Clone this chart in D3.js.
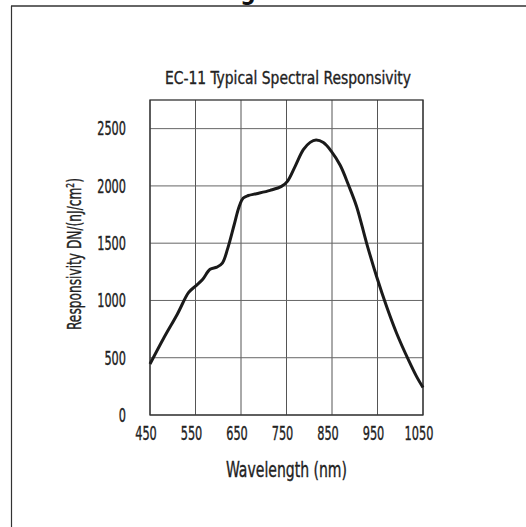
<!DOCTYPE html>
<html>
<head>
<meta charset="utf-8">
<script src="https://cdn.jsdelivr.net/npm/d3@7"></script>
<style>
  html, body { margin: 0; padding: 0; background: #fff; }
  text { font-family: "Liberation Sans Narrow", "DejaVu Sans Condensed", "Roboto Condensed", sans-serif; fill: #222; stroke: #222; stroke-width: 0.35px; }
</style>
</head>
<body>
<svg id="chart" width="526" height="527"></svg>
<script>
// wavelength (nm) and responsivity (DN/(nJ/cm2))
const wavelengths = [450, 480, 510, 535, 550, 565, 582, 597, 609, 621, 635, 646, 655, 666, 684, 714, 739, 752,
    769, 787, 802, 815, 831, 849, 868, 886, 904, 926, 948, 970, 992, 1018, 1036, 1050];
const responsivity = [445, 670, 880, 1070, 1125, 1180, 1272, 1291, 1326, 1457, 1661, 1821, 1894, 1916, 1932, 1961, 1996, 2040,
    2171, 2316, 2380, 2400, 2378, 2300, 2180, 2010, 1821, 1501, 1209, 947, 714, 481, 335, 240];

const xTicks = [450, 550, 650, 750, 850, 950, 1050];
const yTicks = [0, 500, 1000, 1500, 2000, 2500];

const titleText = 'EC-11 Typical Spectral Responsivity';
const xTitle = 'Wavelength (nm)';
const yTitle = 'Responsivity DN/(nJ/cm²)';

const svg = d3.select('#chart');

const plot = { left: 150, right: 423, top: 100, bottom: 415 };

const x = d3.scaleLinear().domain([450, 1050]).range([plot.left, plot.right]);
const y = d3.scaleLinear().domain([0, 2750]).range([plot.bottom, plot.top]);

// outer frame (left and top edges only are visible)
svg.append('line')
    .attr('x1', 11.5).attr('x2', 11.5).attr('y1', 6).attr('y2', 527)
    .style('stroke', '#333').style('stroke-width', '1.2px');
svg.append('line')
    .attr('x1', 11).attr('x2', 526).attr('y1', 6).attr('y2', 6)
    .style('stroke', '#333').style('stroke-width', '1.5px');

// clipped heading from above the frame, only its descenders show
svg.append('text')
    .attr('x', 218).attr('y', -0.5)
    .style('font-weight', 'bold').style('font-size', '24px')
    .style('fill', '#111').style('stroke', 'none')
    .text('Figure 3');

// grid lines
svg.append('g')
    .selectAll('.col')
    .data(xTicks)
    .enter()
    .append('line')
    .attr('x1', d => x(d)).attr('x2', d => x(d))
    .attr('y1', plot.top).attr('y2', plot.bottom)
    .style('stroke', '#555').style('stroke-width', '1px');

svg.append('g')
    .selectAll('.row')
    .data(yTicks)
    .enter()
    .append('line')
    .attr('x1', plot.left).attr('x2', plot.right)
    .attr('y1', d => y(d)).attr('y2', d => y(d))
    .style('stroke', '#666').style('stroke-width', '1px');

svg.append('rect')
    .attr('x', plot.left).attr('y', plot.top)
    .attr('width', plot.right - plot.left).attr('height', plot.bottom - plot.top)
    .style('fill', 'none').style('stroke', '#333').style('stroke-width', '1.3px');

// tick labels
svg.append('g')
    .selectAll('text')
    .data(yTicks)
    .enter()
    .append('text')
    .attr('x', 126)
    .attr('y', d => y(d))
    .attr('dy', '0.36em')
    .attr('text-anchor', 'end')
    .attr('textLength', d => String(d).length * 7.2)
    .attr('lengthAdjust', 'spacingAndGlyphs')
    .style('font-size', '19px')
    .text(d => d);

svg.append('g')
    .selectAll('text')
    .data(xTicks)
    .enter()
    .append('text')
    .attr('x', d => x(d) - 4)
    .attr('y', 440)
    .attr('text-anchor', 'middle')
    .attr('textLength', d => String(d).length * 7.2)
    .attr('lengthAdjust', 'spacingAndGlyphs')
    .style('font-size', '19px')
    .text(d => d);

// titles
svg.append('text')
    .attr('x', 288).attr('y', 83.5)
    .attr('text-anchor', 'middle')
    .attr('textLength', 246)
    .attr('lengthAdjust', 'spacingAndGlyphs')
    .style('font-size', '18.5px')
    .text(titleText);

svg.append('text')
    .attr('x', 286.5).attr('y', 477)
    .attr('text-anchor', 'middle')
    .attr('textLength', 121)
    .attr('lengthAdjust', 'spacingAndGlyphs')
    .style('font-size', '21px')
    .text(xTitle);

svg.append('text')
    .attr('transform', 'translate(80.5,254) rotate(-90)')
    .attr('text-anchor', 'middle')
    .attr('textLength', 152)
    .attr('lengthAdjust', 'spacingAndGlyphs')
    .style('font-size', '20px')
    .text(yTitle);

// responsivity curve
const points = wavelengths.map((w, i) => [w, responsivity[i]]);
const line = d3.line()
    .x(d => x(d[0]))
    .y(d => y(d[1]))
    .curve(d3.curveCatmullRom.alpha(0.5));

svg.append('path')
    .datum(points)
    .attr('d', line)
    .style('fill', 'none')
    .style('stroke', '#1a1a1a')
    .style('stroke-width', '3px')
    .style('stroke-linejoin', 'round');
</script>
</body>
</html>
